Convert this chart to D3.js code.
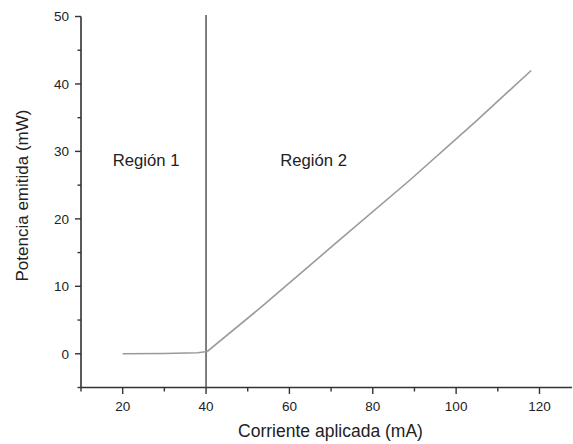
<!DOCTYPE html>
<html>
<head>
<meta charset="utf-8">
<script src="https://cdn.jsdelivr.net/npm/d3@7/dist/d3.min.js"></script>
<style>
  html, body { margin: 0; padding: 0; background: #fff; }
  svg { display: block; }
  text { font-family: "Liberation Sans", Arial, sans-serif; fill: #222; }
</style>
</head>
<body>
<svg id="chart" width="573" height="444"></svg>
<script>
// Data
const current = [20, 30, 38, 40.3, 53, 70, 89, 105, 118];
const power   = [0, 0.05, 0.15, 0.34, 6.8, 15.8, 25.8, 34.6, 42];
const xTicks = [20, 40, 60, 80, 100, 120];
const yTicks = [0, 10, 20, 30, 40, 50];
const thresholdCurrent = 40;
const regionLabels = ["Región 1", "Región 2"];
const regionLabelX = [17.6, 57.8];   // data x for label start
const regionLabelY = [27.8, 27.8];
const xTitle = "Corriente aplicada (mA)";
const yTitle = "Potencia emitida (mW)";

const svg = d3.select("#chart");
const x = d3.scaleLinear().domain([10, 127.8]).range([81, 572]);
const y = d3.scaleLinear().domain([-5, 50]).range([387.5, 16.5]);

const axisColor = "#333";

// Y axis
const yAxis = svg.append("g").attr("transform", "translate(81,0)");
yAxis.append("line").attr("x1", 0).attr("x2", 0).attr("y1", y(-5)).attr("y2", y(50))
  .attr("stroke", axisColor).attr("stroke-width", 1.6);
d3.range(-5, 51, 5).forEach(v => {
  const major = v % 10 === 0;
  yAxis.append("line").attr("x1", major ? -6 : -3.5).attr("x2", 0)
    .attr("y1", y(v)).attr("y2", y(v)).attr("stroke", axisColor).attr("stroke-width", 1.4);
});
yTicks.forEach(v => {
  yAxis.append("text").attr("x", -12).attr("y", y(v)).attr("dy", "0.36em")
    .attr("text-anchor", "end").attr("font-size", 13.5).text(v);
});

// X axis
const xAxis = svg.append("g").attr("transform", `translate(0,${y(-5)})`);
xAxis.append("line").attr("x1", x(10)).attr("x2", x(127.8)).attr("y1", 0).attr("y2", 0)
  .attr("stroke", axisColor).attr("stroke-width", 1.6);
d3.range(10, 126, 10).forEach(v => {
  const major = v % 20 === 0;
  xAxis.append("line").attr("x1", x(v)).attr("x2", x(v)).attr("y1", 0).attr("y2", major ? 6.5 : 4)
    .attr("stroke", axisColor).attr("stroke-width", 1.4);
});
xTicks.forEach(v => {
  xAxis.append("text").attr("x", x(v)).attr("y", 23.5)
    .attr("text-anchor", "middle").attr("font-size", 13.5).text(v);
});

// Threshold vertical line
svg.append("line").attr("x1", x(thresholdCurrent)).attr("x2", x(thresholdCurrent))
  .attr("y1", y(50) - 1.5).attr("y2", y(-5))
  .attr("stroke", "#555").attr("stroke-width", 1.5);

// Curve
const line = d3.line().x((d, i) => x(current[i])).y((d, i) => y(power[i]));
svg.append("path").datum(current).attr("d", line)
  .attr("fill", "none").attr("stroke", "#9a9a9a").attr("stroke-width", 1.6);

// Region labels
regionLabels.forEach((t, i) => {
  svg.append("text").attr("x", x(regionLabelX[i])).attr("y", y(regionLabelY[i]))
    .attr("font-size", 16.7).text(t);
});

// Titles
svg.append("text").attr("x", 330.5).attr("y", 437).attr("text-anchor", "middle")
  .attr("font-size", 17.5).text(xTitle);
svg.append("text").attr("transform", "translate(28,195.5) rotate(-90)")
  .attr("text-anchor", "middle").attr("font-size", 17).text(yTitle);
</script>
</body>
</html>
